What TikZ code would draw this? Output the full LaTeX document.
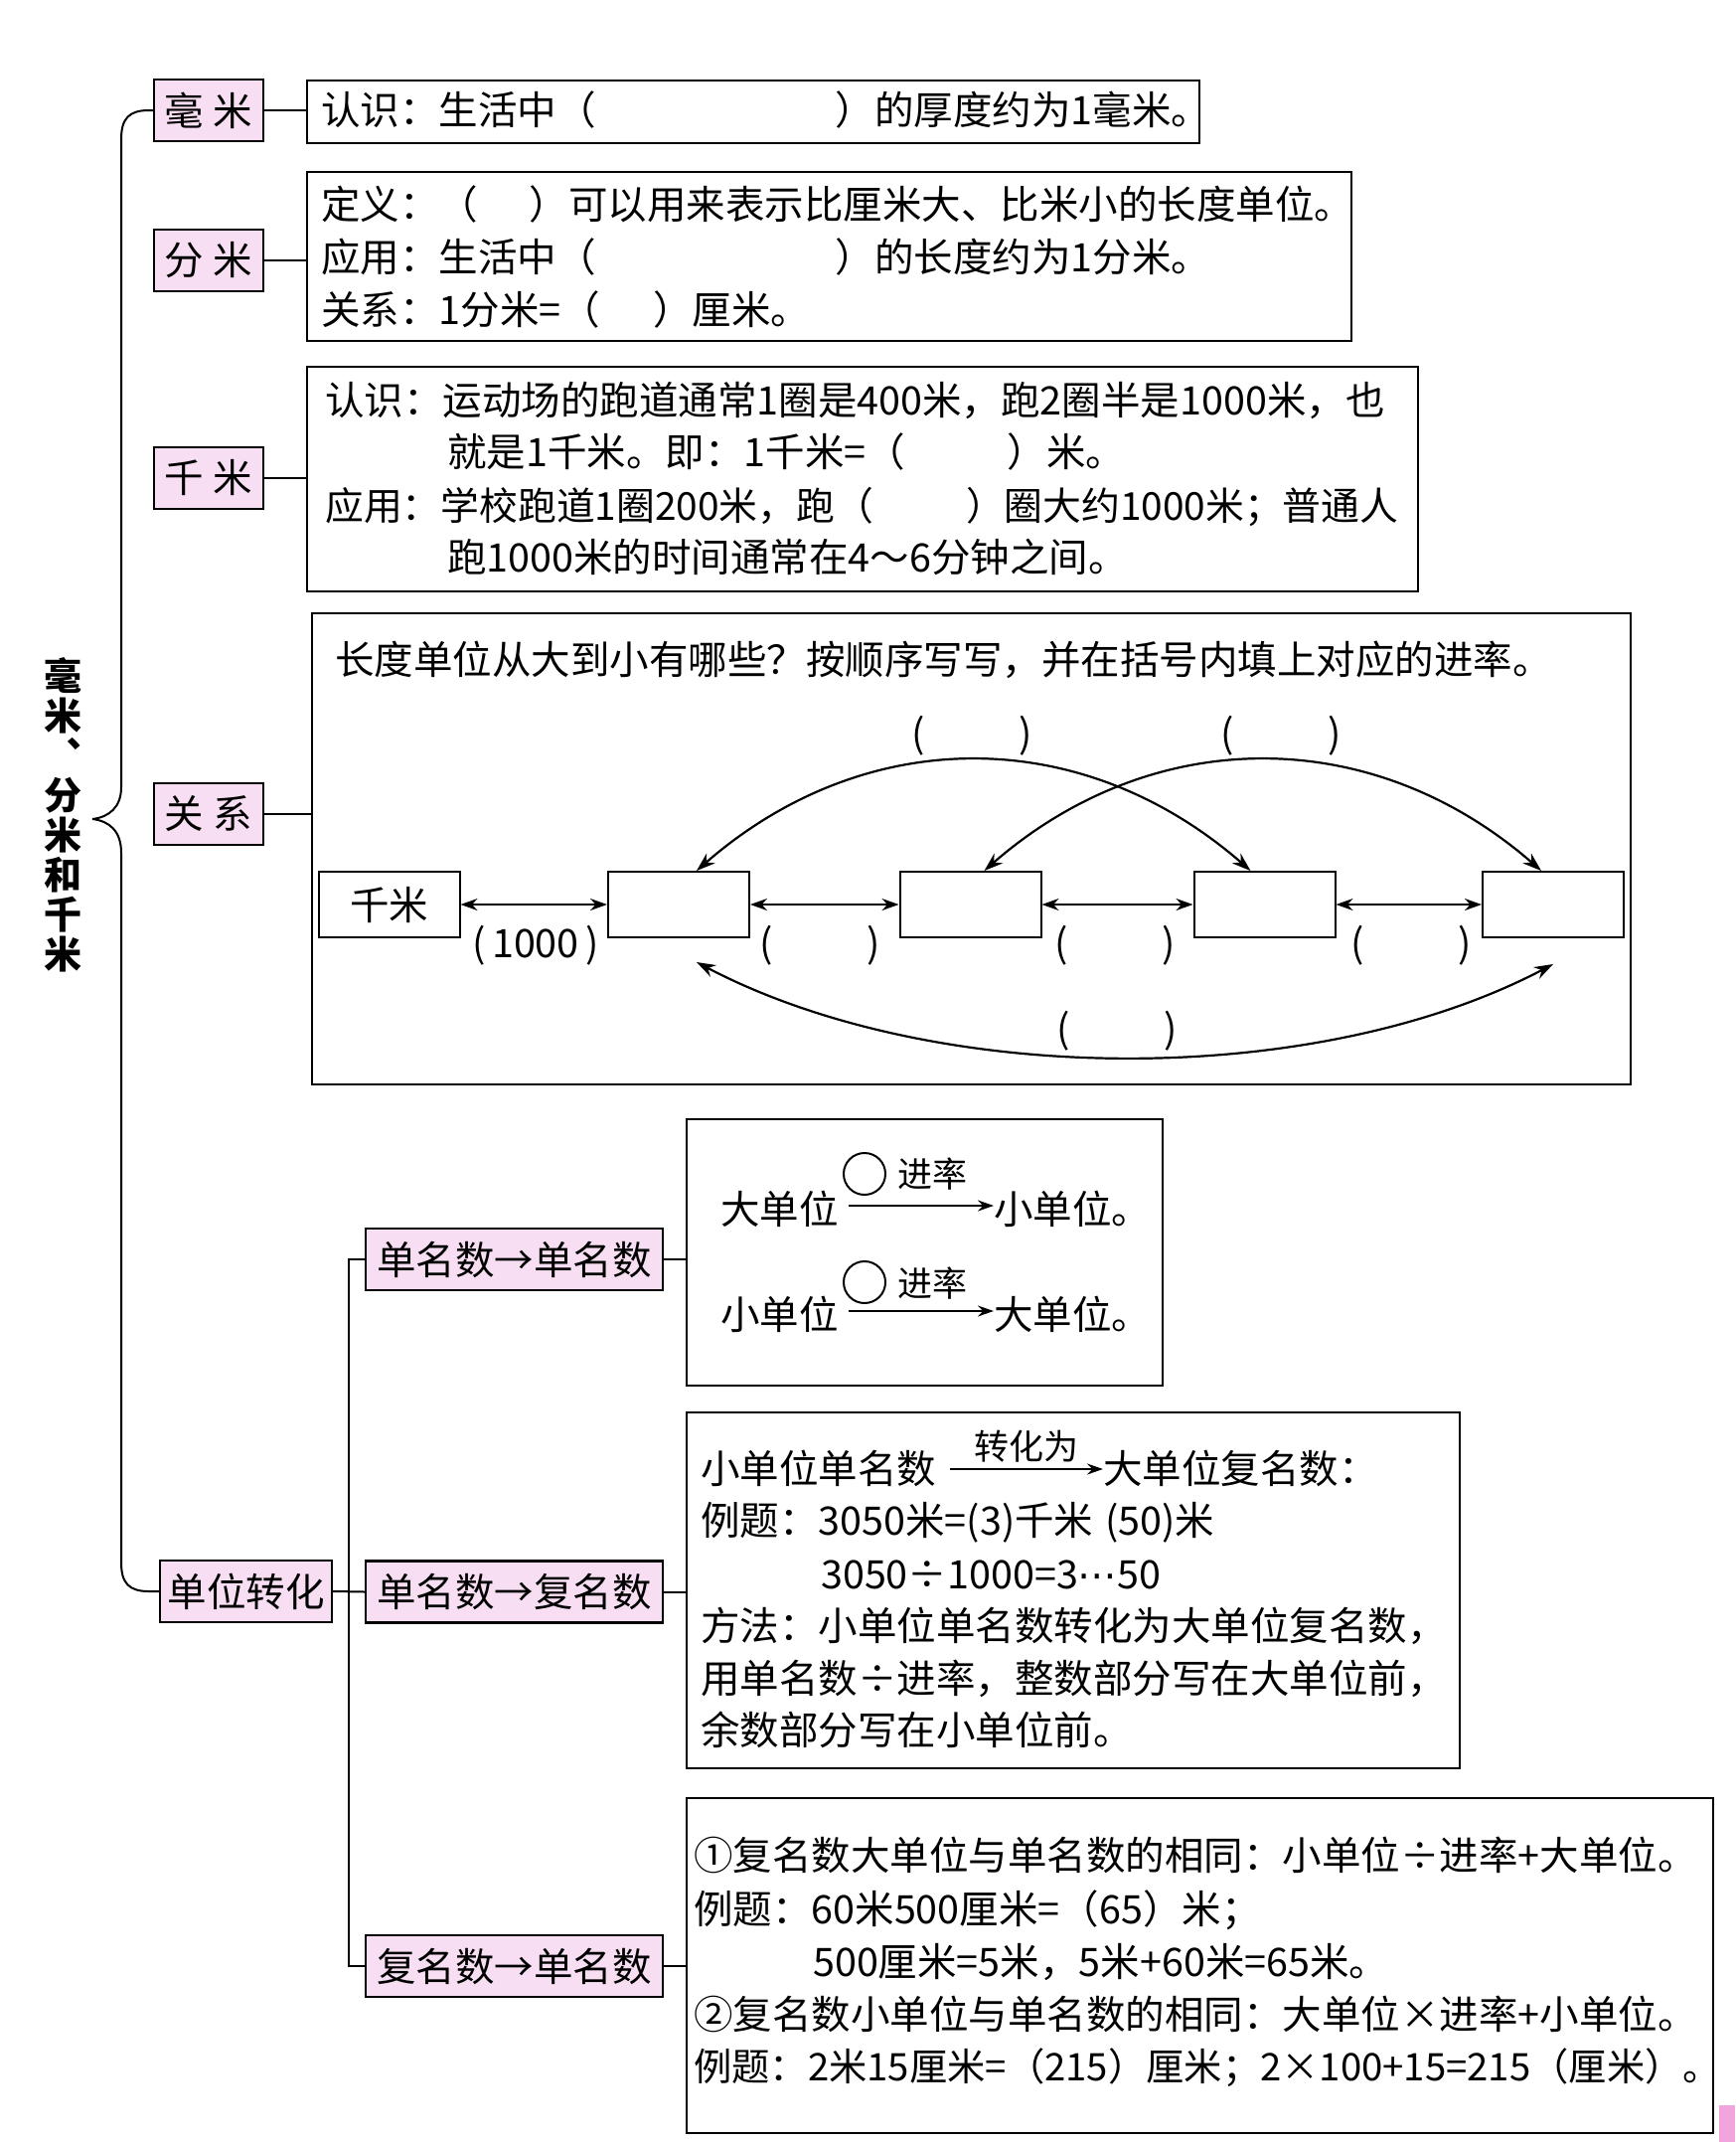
\documentclass[tikz,border=0pt]{standalone}
\usepackage{fontspec}
\setmainfont{Noto Sans CJK SC}
\newfontfamily\dejavu{DejaVu Sans}
\usetikzlibrary{arrows.meta}
\definecolor{pinkfill}{RGB}{247,222,242}
\definecolor{pinktab}{RGB}{240,165,220}
\newcommand{\fs}{\fontsize{39.5}{46}\selectfont}
\newcommand{\fsc}{\fontsize{38.3}{46}\selectfont}
\newcommand{\fsd}{\fontsize{38.8}{46}\selectfont}
\newcommand{\fsb}{\fontsize{35}{42}\selectfont}
\newcommand{\fst}{\bfseries\fontsize{38}{40}\selectfont}
\tikzset{
  lab/.style={draw, line width=2.2pt, fill=pinkfill, minimum height=62pt, inner sep=0pt, font=\fs},
  bigbox/.style={draw, line width=2.4pt, inner sep=0pt, anchor=north west},
  unitbox/.style={draw, line width=2pt, minimum width=142pt, minimum height=66pt, inner sep=0pt, font=\fs},
  txt/.style={anchor=west, inner sep=0pt, text height=31.6pt, text depth=2.4pt, font=\fs},
  stxt/.style={anchor=west, inner sep=0pt, text height=28pt, text depth=2.1pt, font=\fsb},
  ctxt/.style={inner sep=0pt, text height=31.6pt, text depth=2.4pt, font=\fs},
  link/.style={line width=2pt},
  dbl/.style={line width=2pt, {Stealth[length=17pt,width=12pt]}-{Stealth[length=17pt,width=12pt]}},
  arcline/.style={line width=2.2pt, {Stealth[length=19pt,width=13pt]}-{Stealth[length=19pt,width=13pt]}},
  sarrow/.style={line width=2pt, -{Stealth[length=16pt,width=11pt]}},
}
\begin{document}
\begin{tikzpicture}[x=1pt,y=-1pt]
\useasboundingbox (0,0) rectangle (1746,2155);

% ---- title ----
\node[font=\fst, align=center, inner sep=0pt] (ti) at (63,820) {毫\\米\\︑\\分\\米\\和\\千\\米};

% ---- first-level labels ----
\node[lab, minimum width=110pt] (mm) at (210,111) {毫\hspace{0.25em}米};
\node[lab, minimum width=110pt] (fm) at (210,262) {分\hspace{0.25em}米};
\node[lab, minimum width=110pt] (qm) at (210,481) {千\hspace{0.25em}米};
\node[lab, minimum width=110pt] (gx) at (210,819) {关\hspace{0.25em}系};
\node[lab, minimum width=173pt] (dw) at (247.5,1601) {单位转化};

% ---- brace ----
\coordinate (tip) at (93,824);
\draw[link] (mm.west) -- (150,111) .. controls (130,111) and (122,119) .. (122,140)
  -- (122,792) .. controls (122,812) and (110,822) .. (tip);
\draw[link] (tip) .. controls (110,826) and (122,836) .. (122,858)
  -- (122,1572) .. controls (122,1593) and (130,1601) .. (150,1601) -- (dw.west);

% ---- boxes ----
\node[bigbox, minimum width=898pt, minimum height=63pt] (b1) at (308,80) {};
\node[bigbox, minimum width=1051pt, minimum height=170pt] (b2) at (308,172) {};
\node[bigbox, minimum width=1118pt, minimum height=226pt] (b3) at (308,368) {};
\node[bigbox, minimum width=1327pt, minimum height=474pt] (b4) at (313,616) {};
\draw[link] (mm.east) -- (mm.east -| b1.west);
\draw[link] (fm.east) -- (fm.east -| b2.west);
\draw[link] (qm.east) -- (qm.east -| b3.west);
\draw[link] (gx.east) -- (gx.east -| b4.west);

% box 1
\node[txt] (t11) at (323,111) {认识：生活中（\hspace{6.1em}）的厚度约为1毫米。};
% box 2
\node[txt] (t21) at (323,206) {定义：（\hspace{1.3em}）可以用来表示比厘米大、比米小的长度单位。};
\node[txt] (t22) at (323,259) {应用：生活中（\hspace{6.1em}）的长度约为1分米。};
\node[txt] (t23) at (323,312) {关系：1分米=（\hspace{1.35em}）厘米。};
% box 3
\node[txt] (t31) at (327,403) {认识：运动场的跑道通常1圈是400米，跑2圈半是1000米，也};
\node[txt] (t32) at (450,455) {就是1千米。即：1千米=（\hspace{2.6em}）米。};
\node[txt, font=\fsd] (t33) at (327,509) {应用：学校跑道1圈200米，跑（\hspace{2.4em}）圈大约1000米；普通人};
\node[txt] (t34) at (450,561) {跑1000米的时间通常在4～6分钟之间。};
% box 4
\node[txt] (t41) at (337,664) {长度单位从大到小有哪些？按顺序写写，并在括号内填上对应的进率。};
\node[unitbox] (u1) at (391.5,910) {千米};
\node[unitbox] (u2) at (683,910) {};
\node[unitbox] (u3) at (976.5,910) {};
\node[unitbox] (u4) at (1272.5,910) {};
\node[unitbox] (u5) at (1563,910) {};
\draw[dbl] (u1.east) -- (u2.west);
\draw[dbl] (u2.east) -- (u3.west);
\draw[dbl] (u3.east) -- (u4.west);
\draw[dbl] (u4.east) -- (u5.west);
\node[ctxt] (ld1) at (539,949) {(\,1000\,)};
\node[ctxt] (ld2) at (825,949) {(\hspace{2.4em})};
\node[ctxt] (ld3) at (1122,949) {(\hspace{2.4em})};
\node[ctxt] (ld4) at (1420,949) {(\hspace{2.4em})};
\node[ctxt] (lt1) at (978,738) {(\hspace{2.4em})};
\node[ctxt] (lt2) at (1289,738) {(\hspace{2.4em})};
\node[ctxt] (lb1) at (1124,1035) {(\hspace{2.4em})};
\draw[arcline] ([xshift=18pt]u2.north) .. controls +(170,-148) and +(-170,-148) .. ([xshift=-14pt]u4.north);
\draw[arcline] ([xshift=14pt]u3.north) .. controls +(170,-148) and +(-170,-148) .. ([xshift=-12pt]u5.north);
\draw[arcline] ([xshift=18pt,yshift=-24pt]u2.south) .. controls +(240,126) and +(-240,126) .. ([yshift=-26pt]u5.south);

% ---- second level ----
\node[lab, minimum width=299pt] (s1) at (517.5,1267) {单名数→单名数};
\node[lab, minimum width=299pt] (s2) at (517.5,1601.5) {单名数→复名数};
\node[lab, minimum width=299pt] (s3) at (517.5,1978) {复名数→单名数};
\coordinate (jt) at (351,1267);
\draw[link] (s1.west) -- (s1.west -| jt) -- (s3.west -| jt) -- (s3.west);
\draw[link] (dw.east) -- (s2.west);

\node[bigbox, minimum width=479pt, minimum height=268pt] (b5) at (690,1125) {};
\node[bigbox, minimum width=778pt, minimum height=358pt] (b6) at (690,1420) {};
\node[bigbox, minimum width=1033pt, minimum height=337pt] (b7) at (690,1808) {};
\draw[link] (s1.east) -- (s1.east -| b5.west);
\draw[link] (s2.east) -- (s2.east -| b6.west);
\draw[link] (s3.east) -- (s3.east -| b7.west);

% box 5
\node[txt] (r1a) at (725,1217) {大单位};
\node[txt] (r1b) at (1000,1217) {小单位。};
\draw[sarrow] ([xshift=10pt,yshift=4pt]r1a.east) -- ([yshift=4pt]r1b.west);
\node[draw, circle, line width=2pt, minimum size=42pt, inner sep=0pt] (c1) at (870,1181) {};
\node[stxt] (j1) at (903,1182) {进率};
\node[txt] (r2a) at (725,1323) {小单位};
\node[txt] (r2b) at (1000,1323) {大单位。};
\draw[sarrow] ([xshift=10pt,yshift=4pt]r2a.east) -- ([yshift=4pt]r2b.west);
\node[draw, circle, line width=2pt, minimum size=42pt, inner sep=0pt] (c2) at (870,1290) {};
\node[stxt] (j2) at (903,1292) {进率};

% box 6
\node[txt] (t61) at (705,1478) {小单位单名数};
\node[txt] (t61b) at (1110,1478) {大单位复名数：};
\draw[sarrow] ([xshift=14pt]t61.east) -- node[above=6pt, inner sep=0pt, text height=28pt, text depth=2.1pt, font=\fsb] (zh) {转化为} (t61b.west);
\node[txt] (t62) at (705,1530) {例题：3050米=(3)千米\hspace{0.3em}(50)米};
\node[txt] (t63) at (826,1584) {3050÷1000=3{\dejavu ⋯}50};
\node[txt] (t64) at (705,1636) {方法：小单位单名数转化为大单位复名数，};
\node[txt] (t65) at (705,1689) {用单名数÷进率，整数部分写在大单位前，};
\node[txt] (t66) at (705,1741) {余数部分写在小单位前。};

% box 7
\node[txt] (t71) at (698,1867) {①复名数大单位与单名数的相同：小单位÷进率+大单位。};
\node[txt] (t72) at (698,1921) {例题：60米500厘米=（65）米；};
\node[txt] (t73) at (818,1974) {500厘米=5米，5米+60米=65米。};
\node[txt] (t74) at (698,2027) {②复名数小单位与单名数的相同：大单位×进率+小单位。};
\node[txt, font=\fsc] (t75) at (698,2079) {例题：2米15厘米=（215）厘米；2×100+15=215（厘米）。};

% page tab
\fill[pinktab] (1730,2118) rectangle (1746,2155);
\end{tikzpicture}
\end{document}
